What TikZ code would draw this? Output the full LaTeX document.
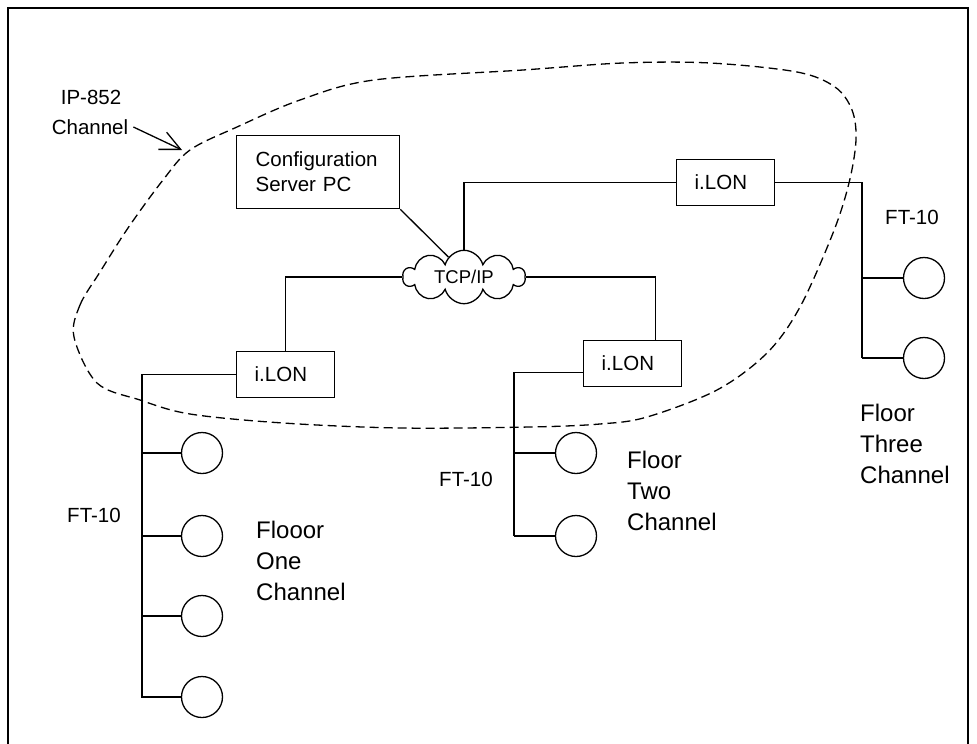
\documentclass[tikz,border=0pt]{standalone}
\usepackage{fontspec}
\setmainfont{Liberation Sans}
\usetikzlibrary{arrows.meta,positioning,shapes.symbols}

\begin{document}
\begin{tikzpicture}[x=1pt, y=-1pt,
  every node/.style={font=\fontsize{20.5}{25}\selectfont},
  wire/.style={line width=1.3pt},
  box/.style={draw, line width=1.3pt, inner xsep=18pt, inner ysep=0pt, text width=62pt, align=left, minimum height=46pt},
  dev/.style={draw, circle, line width=1.3pt, minimum size=41pt, inner sep=0pt},
  floor/.style={font=\fontsize{24}{31}\selectfont, align=left, anchor=base west, inner sep=0pt},
  zone/.style={line width=1.3pt, dash pattern=on 9pt off 5pt}
]
\useasboundingbox (0,0) rectangle (977,744);
\draw[line width=2.4pt] (8,750) -- (8,8) -- (968,8) -- (968,750);

% IP-852 area
\draw[zone] plot[smooth cycle, tension=0.55] coordinates {
  (74,337) (80,305) (100,272) (128,228) (163,180) (190,150) (237,127)
  (300,100) (374,80) (523,70) (623,63) (710,63) (797,72) (835,87)
  (852,110) (856,140) (849,183) (833,233) (800,307) (767,353) (717,390)
  (647,417) (600,424) (530,427) (400,428) (283,423) (190,414) (140,400)
  (97,383)};
\node[inner sep=0pt] (ip) at (91,97) {IP-852};
\node[inner sep=0pt] (ipch) at (90,127) {Channel};
\coordinate (tip) at (182,150);
\draw[wire, -{Straight Barb[length=20pt, width=19pt]}] ([xshift=5pt]ipch.east) -- (tip);

% backbone
\node[cloud, draw, cloud puffs=10, aspect=2.4, minimum width=122pt, minimum height=51pt,
  inner sep=0pt, line width=1.3pt, font=\fontsize{18.5}{22}\selectfont] (tcp) at (464,277) {TCP/IP};
\node[box, text width=125pt, minimum height=73pt, inner xsep=19pt, anchor=north west] (cfg) at (236,135) {Configuration\\Server PC};
\node[box, anchor=north west] (ilonL) at (236,351) {i.LON};
\node[box, anchor=north west] (ilonM) at (583,340) {i.LON};
\node[box, anchor=north west] (ilonR) at (676,159) {i.LON};

\draw[wire] (cfg.south east) -- (tcp.128);
\draw[wire] (tcp.north) |- (ilonR.west);
\draw[wire] (tcp.west) -| (ilonL.north);
\draw[wire] (tcp.east) -| ([xshift=23pt]ilonM.north);

% floor one
\coordinate (busL) at (142,698);
\draw[wire] (ilonL.west) -| (busL);
\foreach \y [count=\i] in {453,536,616,697} {
  \node[dev] (l\i) at (202,\y) {};
  \draw[wire] (l\i.west) -- (l\i.west -| busL);
}
\node (ftL) at (94,515) {FT-10};
\node[floor] (flL) at (256,600) {Flooor\\One\\Channel};

% floor two
\coordinate (busM) at (514,536);
\draw[wire] ([yshift=-9pt]ilonM.west) -| (busM);
\foreach \y [count=\i] in {453,536} {
  \node[dev] (m\i) at (576,\y) {};
  \draw[wire] (m\i.west) -- (m\i.west -| busM);
}
\node (ftM) at (466,479) {FT-10};
\node[floor] (flM) at (627,530) {Floor\\Two\\Channel};

% floor three
\coordinate (busR) at (862,358);
\draw[wire] (ilonR.east) -| (busR);
\foreach \y [count=\i] in {278,358} {
  \node[dev] (r\i) at (924,\y) {};
  \draw[wire] (r\i.west) -- (r\i.west -| busR);
}
\node (ftR) at (912,217) {FT-10};
\node[floor] (flR) at (860,483) {Floor\\Three\\Channel};
\end{tikzpicture}
\end{document}
